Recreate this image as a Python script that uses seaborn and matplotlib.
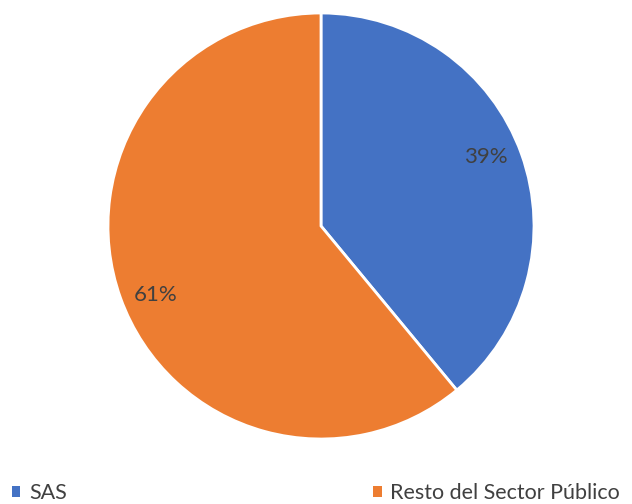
import matplotlib
matplotlib.use("Agg")
import numpy as np
import matplotlib.pyplot as plt
import seaborn as sns
from matplotlib.patches import Patch

categories = ["SAS", "Resto del Sector Público"]
values = [39, 61]
colors = sns.color_palette(["#4472C4", "#ED7D31"])

sns.set_theme(style="white")
plt.rcParams['font.family'] = ['Lato', 'DejaVu Sans']

fig = plt.figure(figsize=(6.32, 5.04), dpi=100)
ax = fig.add_axes([(321 - 213) / 632, (504 - 439) / 504, 426 / 632, 426 / 504])

wedges, texts, autotexts = ax.pie(
    values, colors=colors, startangle=90, counterclock=False,
    autopct="%1.0f%%", pctdistance=0.84,
    wedgeprops=dict(edgecolor="white", linewidth=2),
    textprops=dict(color="#404040", fontsize=16),
)
# nudge the labels a little, like the original
for w, t in zip(wedges, autotexts):
    ang = np.deg2rad((w.theta1 + w.theta2) / 2 + 3)
    t.set_position((0.84 * np.cos(ang), 0.84 * np.sin(ang)))

ax.set_xlim(-1, 1)
ax.set_ylim(-1, 1)
ax.set_aspect("equal")

handles = [Patch(facecolor=c, edgecolor="none") for c in colors]
fig.legend(handles, categories, loc="lower left", ncol=2, mode="expand",
           bbox_to_anchor=(0.005, -0.015, 0.99, 0.04), frameon=False,
           fontsize=15.5, handlelength=0.4, handleheight=0.4, handletextpad=0.4,
           borderaxespad=0.0, labelcolor="#404040")

fig.savefig("out.png", dpi=100)
